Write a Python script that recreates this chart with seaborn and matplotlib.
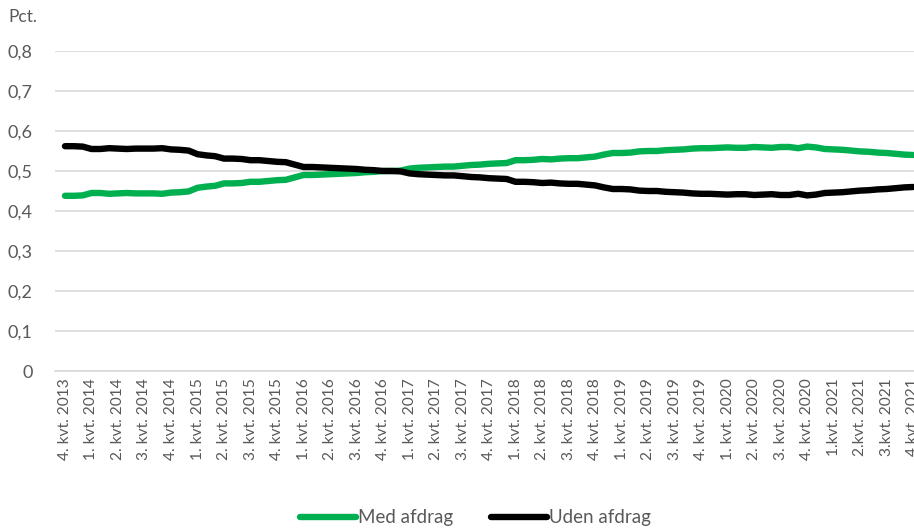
import matplotlib
matplotlib.use("Agg")
import matplotlib.pyplot as plt
import seaborn as sns
import pandas as pd
import numpy as np

# Quarterly tick labels (one every third month)
tick_labels = (
    ["4. kvt. 2013"]
    + [f"{q}. kvt. {y}" for y in range(2014, 2021) for q in range(1, 5)]
    + [f"{q}.kvt. 2021" for q in range(1, 5)]
)

# Monthly shares, Dec 2013 - Dec 2021
med_afdrag = [
    0.438, 0.438, 0.439, 0.445, 0.445, 0.443, 0.444, 0.445, 0.444, 0.444,
    0.444, 0.443, 0.446, 0.447, 0.449, 0.458, 0.461, 0.463, 0.469, 0.469,
    0.470, 0.473, 0.473, 0.475, 0.477, 0.478, 0.484, 0.490, 0.490, 0.491,
    0.492, 0.493, 0.494, 0.495, 0.497, 0.498, 0.500, 0.500, 0.501, 0.506,
    0.508, 0.509, 0.510, 0.511, 0.511, 0.513, 0.515, 0.516, 0.518, 0.519,
    0.520, 0.527, 0.527, 0.528, 0.530, 0.529, 0.531, 0.532, 0.532, 0.534,
    0.536, 0.541, 0.545, 0.545, 0.546, 0.549, 0.550, 0.550, 0.552, 0.553,
    0.554, 0.556, 0.557, 0.557, 0.558, 0.559, 0.558, 0.558, 0.560, 0.559,
    0.558, 0.560, 0.560, 0.557, 0.561, 0.559, 0.555, 0.554, 0.553, 0.551,
    0.549, 0.548, 0.546, 0.545, 0.543, 0.541, 0.540,
]
uden_afdrag = [
    0.562, 0.562, 0.561, 0.555, 0.555, 0.557, 0.556, 0.555, 0.556, 0.556,
    0.556, 0.557, 0.554, 0.553, 0.551, 0.542, 0.539, 0.537, 0.531, 0.531,
    0.530, 0.527, 0.527, 0.525, 0.523, 0.522, 0.516, 0.510, 0.510, 0.509,
    0.508, 0.507, 0.506, 0.505, 0.503, 0.502, 0.500, 0.500, 0.499, 0.494,
    0.492, 0.491, 0.490, 0.489, 0.489, 0.487, 0.485, 0.484, 0.482, 0.481,
    0.480, 0.473, 0.473, 0.472, 0.470, 0.471, 0.469, 0.468, 0.468, 0.466,
    0.464, 0.459, 0.455, 0.455, 0.454, 0.451, 0.450, 0.450, 0.448, 0.447,
    0.446, 0.444, 0.443, 0.443, 0.442, 0.441, 0.442, 0.442, 0.440, 0.441,
    0.442, 0.440, 0.440, 0.443, 0.439, 0.441, 0.445, 0.446, 0.447, 0.449,
    0.451, 0.452, 0.454, 0.455, 0.457, 0.459, 0.460,
]
series_names = ["Med afdrag", "Uden afdrag"]
y_ticks = [0.0, 0.1, 0.2, 0.3, 0.4, 0.5, 0.6, 0.7, 0.8]

n = len(med_afdrag)
df = pd.DataFrame({
    "måned": list(range(n)) * 2,
    "andel": med_afdrag + uden_afdrag,
    "serie": [series_names[0]] * n + [series_names[1]] * n,
})

sns.set_theme(style="white")
plt.rcParams["font.family"] = ["Lato", "DejaVu Sans"]
text_color = "#595959"
grid_color = "#d9d9d9"
line_w = 4.6

fig = plt.figure(figsize=(9.14, 5.29), dpi=100)
ax = fig.add_axes([55 / 914, 1 - 371 / 529, 1 - 55 / 914, (371 - 51) / 529])

sns.lineplot(
    data=df, x="måned", y="andel", hue="serie",
    palette={"Med afdrag": "#00b050", "Uden afdrag": "#000000"},
    linewidth=line_w, ax=ax, legend=False, solid_capstyle="round",
)

ax.set_xlim(-1.13, 96.1)
ax.set_ylim(0, 0.8)
ax.set_yticks(y_ticks)
ax.set_yticklabels([f"{v:.1f}".replace(".", ",") if v else "0" for v in y_ticks],
                   fontsize=13, color=text_color)
ax.set_xticks(range(0, n, 3))
ax.set_xticklabels(tick_labels, rotation=90, fontsize=11.2, color=text_color,
                   ha="center", va="top")
ax.tick_params(axis="both", length=0)
ax.tick_params(axis="y", pad=16)
ax.tick_params(axis="x", pad=5)
for s in ["top", "right", "left"]:
    ax.spines[s].set_visible(False)
ax.spines["bottom"].set_color(grid_color)
ax.spines["bottom"].set_linewidth(1.2)
ax.yaxis.grid(True, color=grid_color, linewidth=1.2)
ax.set_axisbelow(True)
ax.set_xlabel("")
ax.set_ylabel("")

fig.text(8 / 914, 1 - 17 / 529, "Pct.", fontsize=12.5, color=text_color,
         ha="left", va="center")

handles = [
    plt.Line2D([0], [0], color="#00b050", linewidth=line_w, solid_capstyle="round"),
    plt.Line2D([0], [0], color="#000000", linewidth=line_w, solid_capstyle="round"),
]
fig.legend(handles, series_names, loc="center", bbox_to_anchor=(0.52, 1 - 518 / 529),
           ncol=2, frameon=False, fontsize=13.5, handlelength=3.0, handletextpad=0.1,
           columnspacing=2.0, labelcolor=text_color, borderpad=0.1)

fig.savefig("out.png", dpi=100)
